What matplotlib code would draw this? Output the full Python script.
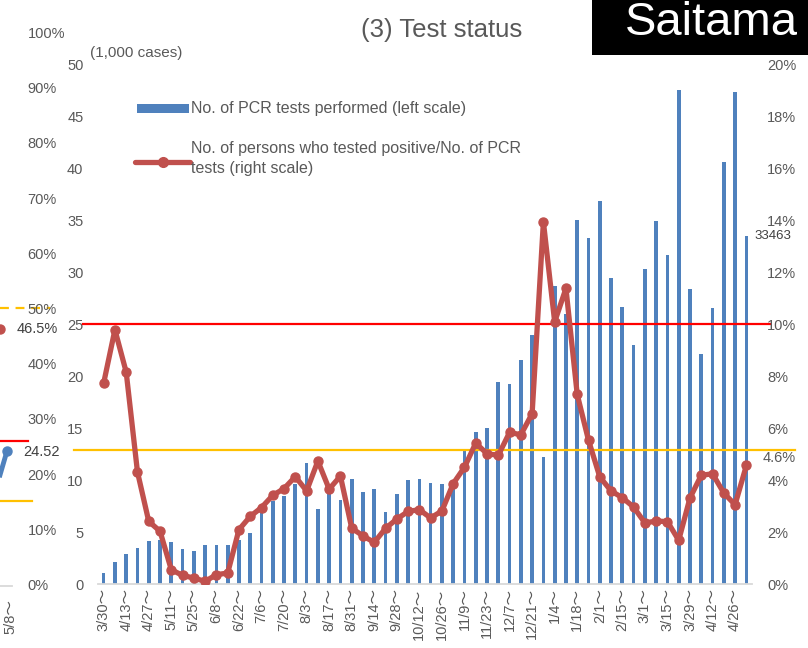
import matplotlib
matplotlib.use("Agg")
import matplotlib.pyplot as plt
from matplotlib.lines import Line2D
from matplotlib.patches import Rectangle
import matplotlib.transforms as mtransforms

plt.rcParams['font.family'] = ['Liberation Sans', 'Noto Sans CJK JP', 'DejaVu Sans']

# ---------------- data ----------------
weeks = ["3/30", "4/6", "4/13", "4/20", "4/27", "5/4", "5/11", "5/18", "5/25", "6/1",
         "6/8", "6/15", "6/22", "6/29", "7/6", "7/13", "7/20", "7/27", "8/3", "8/10",
         "8/17", "8/24", "8/31", "9/7", "9/14", "9/21", "9/28", "10/5", "10/12", "10/19",
         "10/26", "11/2", "11/9", "11/16", "11/23", "11/30", "12/7", "12/14", "12/21", "12/28",
         "1/4", "1/11", "1/18", "1/25", "2/1", "2/8", "2/15", "2/22", "3/1", "3/8",
         "3/15", "3/22", "3/29", "4/5", "4/12", "4/19", "4/26", "5/3"]

# PCR tests performed (thousand cases, left scale)
tests = [1.1, 2.1, 2.9, 3.5, 4.16, 4.2, 4.04, 3.37, 3.2, 3.75,
         3.75, 3.75, 4.2, 4.93, 7.1, 8.0, 8.5, 9.6, 11.6, 7.2,
         9.0, 8.1, 10.1, 8.8, 9.1, 6.9, 8.7, 10.0, 10.1, 9.68,
         9.6, 9.9, 12.8, 14.6, 15.0, 19.4, 19.2, 21.5, 23.9, 12.2,
         28.7, 26.0, 35.0, 33.3, 36.8, 29.4, 26.6, 23.0, 30.3, 34.9,
         31.6, 47.5, 28.4, 22.1, 26.5, 40.6, 47.3, 33.463]

# positivity rate (%, right scale)
rate = [7.72, 9.78, 8.15, 4.31, 2.41, 2.03, 0.55, 0.33, 0.23, 0.10,
        0.36, 0.42, 2.09, 2.60, 2.94, 3.41, 3.67, 4.13, 3.58, 4.73,
        3.65, 4.15, 2.15, 1.85, 1.60, 2.14, 2.50, 2.79, 2.86, 2.54,
        2.81, 3.86, 4.49, 5.42, 5.01, 4.95, 5.83, 5.74, 6.55, 13.93,
        10.08, 11.37, 7.29, 5.53, 4.12, 3.58, 3.32, 2.96, 2.35, 2.42,
        2.40, 1.68, 3.31, 4.18, 4.24, 3.50, 3.05, 4.56]

left_ticks = [0, 5, 10, 15, 20, 25, 30, 35, 40, 45, 50]
right_ticks = [0, 2, 4, 6, 8, 10, 12, 14, 16, 18, 20]
red_ref = 10.0      # % (right scale)
yellow_ref = 5.15   # % (right scale)

neighbor_pct = [0, 10, 20, 30, 40, 50, 60, 70, 80, 90, 100]

GRAY = '#595959'
BLUE = '#4F81BD'
RED = '#C0504D'
TILDE = "\uff5e"

W, H = 808, 648
fig = plt.figure(figsize=(W / 100, H / 100), dpi=100)


def P(x, y):
    return (x / W, 1 - y / H)


ax = fig.add_axes([98 / W, 64 / H, 654 / W, 520 / H])
ax2 = ax.twinx()
ax.set_zorder(1)
ax2.set_zorder(2)
ax.patch.set_visible(False)
ax2.patch.set_visible(False)

x = list(range(len(tests)))
ax.bar(x, tests, width=0.33, color=BLUE, zorder=2)
ax.set_xlim(-0.5, len(tests) - 0.5)
ax.set_ylim(0, 50)
ax.set_yticks(left_ticks)
ax.set_yticklabels([str(t) for t in left_ticks])
ax.set_xticks(x[::2])
ax.set_xticklabels([w + TILDE for w in weeks[::2]], rotation=90)
ax.tick_params(axis='y', length=0, pad=10.5, labelsize=10.5, labelcolor=GRAY)
ax.tick_params(axis='x', length=0, pad=3, labelsize=10.5, labelcolor=GRAY)
for s in ['top', 'left', 'right']:
    ax.spines[s].set_visible(False)
ax.spines['bottom'].set_color('#D9D9D9')
ax.spines['bottom'].set_linewidth(1.3)

ax2.set_ylim(0, 20)
ax2.set_yticks(right_ticks)
ax2.set_yticklabels([f"{t}%" for t in right_ticks])
ax2.tick_params(axis='y', length=0, pad=11, labelsize=10.5, labelcolor=GRAY)
for s in ax2.spines.values():
    s.set_visible(False)

# reference lines
tr = mtransforms.blended_transform_factory(ax2.transAxes, ax2.transData)
ax2.plot([-0.023, 1.0275], [red_ref, red_ref], color='#FF0000', lw=1.6,
         transform=tr, clip_on=False, zorder=1)
ax2.plot([-0.0367, 1.066], [yellow_ref, yellow_ref], color='#FFC000', lw=1.6,
         transform=tr, clip_on=False, zorder=1)

# positivity line
ax2.plot(x, rate, color=RED, lw=3.8, marker='o', markersize=6.5,
         solid_capstyle='round', solid_joinstyle='round', zorder=3)

# data labels
ax2.annotate("33463", xy=(len(tests) - 1, tests[-1] * 20 / 50), xytext=(19, 0),
             textcoords='offset points', ha='center', va='center',
             fontsize=9.5, color='#404040', annotation_clip=False)
fig.text(*P(779, 458), "4.6%", ha='center', va='center', fontsize=10.5, color=GRAY)

# texts
fig.text(*P(90, 53), "(1,000 cases)", ha='left', va='center', fontsize=11, color=GRAY)
fig.text(*P(441.5, 30), "(3) Test status", ha='center', va='center', fontsize=18.5, color=GRAY)

# Saitama box
fig.patches.append(Rectangle(P(592, 55), (808 - 592) / W, 55 / H, transform=fig.transFigure,
                             facecolor='black', edgecolor='none', zorder=5))
fig.text(*P(711.5, 23), "Saitama", ha='center', va='center', fontsize=34,
         color='white', zorder=6)

# legend (manual)
fig.patches.append(Rectangle(P(137, 113), 52 / W, 9 / H, transform=fig.transFigure,
                             facecolor=BLUE, edgecolor='none'))
fig.text(*P(191, 108), "No. of PCR tests performed (left scale)", ha='left', va='center',
         fontsize=11.5, color=GRAY)
fig.add_artist(Line2D([135 / W, 190 / W], [1 - 162 / H, 1 - 162 / H], color=RED, lw=3.8,
                      solid_capstyle='round', transform=fig.transFigure))
fig.add_artist(Line2D([162.5 / W], [1 - 162 / H], color=RED, marker='o', markersize=7,
                      transform=fig.transFigure))
fig.text(*P(191, 149), "No. of persons who tested positive/No. of PCR", ha='left',
         va='center', fontsize=11.5, color=GRAY)
fig.text(*P(191, 168), "tests (right scale)", ha='left', va='center',
         fontsize=11.5, color=GRAY)

# fragment of the neighbouring panel on the left edge
for p in neighbor_pct:
    yy = 586 - p / 10 * 55.2
    fig.text(*P(27.5, yy), f"{p}%", ha='left', va='center', fontsize=10.5, color=GRAY)


def fl(xs, ys, **kw):
    fig.add_artist(Line2D([v / W for v in xs], [1 - v / H for v in ys],
                          transform=fig.transFigure, **kw))


fl([0, 50], [308, 308], color='#FFC000', lw=1.6, dashes=(4, 3))
fl([0, 28], [441, 441], color='#FF0000', lw=1.6)
fl([0, 32], [501, 501], color='#FFC000', lw=1.6)
fl([0, 12], [586, 586], color='#D9D9D9', lw=1.3)
fl([0, 7], [475, 451], color=BLUE, lw=3.5)
fl([7], [451], color=BLUE, marker='o', markersize=6.5)
fl([0], [329], color=RED, marker='o', markersize=6.5)
fig.text(*P(17, 329), "46.5%", ha='left', va='center', fontsize=10.5, color='#404040')
fig.text(*P(23, 452), "24.52", ha='left', va='center', fontsize=10.5, color='#404040')
fig.text(*P(10, 616), "5/8" + TILDE, ha='center', va='center', rotation=90, fontsize=10.5, color=GRAY)

fig.savefig("out.png", dpi=100)
